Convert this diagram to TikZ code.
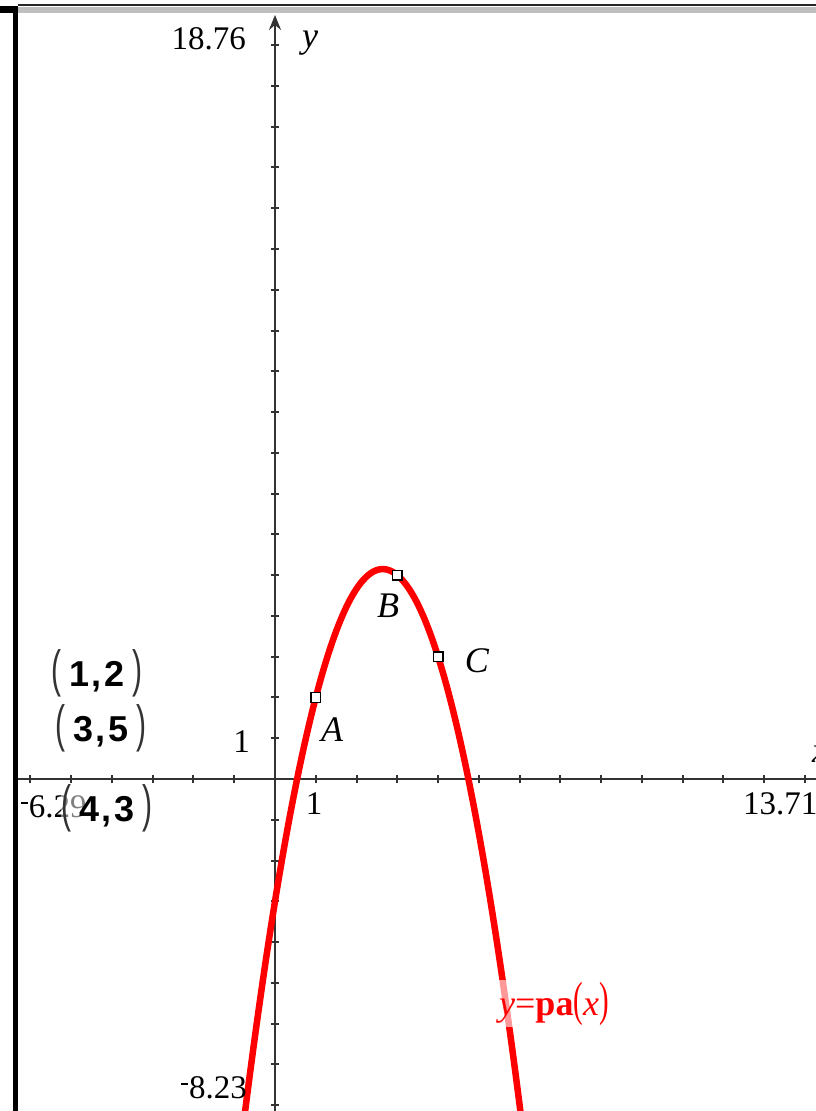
\documentclass[tikz,border=0pt]{standalone}
\usepackage{fontspec}
\setmainfont{Liberation Serif}
\newfontfamily\tisans{Liberation Sans}
\usetikzlibrary{arrows.meta}
\newcommand\timinus{\raisebox{0.42em}{\rule{0.2em}{0.055em}}\hspace{0.03em}}
\newcommand\tipar[1]{\textcolor{black!80}{\scalebox{1}[1.7]{\fontsize{30}{30}\selectfont\tisans #1}}}
\newcommand\tuple[2]{\tipar{(}\hspace{8pt}{\fontsize{36}{36}\selectfont\tisans\bfseries #1\hspace{2pt},\hspace{3pt}#2}\hspace{8pt}\tipar{)}}
\newcommand\redpar[1]{\scalebox{0.9}[1.5]{\fontsize{32}{32}\selectfont #1}}
\begin{document}
\begin{tikzpicture}[x=1pt,y=-1pt,
  axisline/.style={draw=black!80,line width=2.5pt},
  tickmark/.style={draw=black!80,line width=2pt},
  numlbl/.style={inner sep=0pt,font=\fontsize{33}{33}\selectfont},
  ptlbl/.style={inner sep=0pt,font=\fontsize{36}{36}\selectfont\itshape},
  tuplbl/.style={inner sep=0pt},
  ptmark/.style={draw=black,fill=white,line width=1.4pt,minimum size=9.5pt,inner sep=0pt,rectangle}]
\useasboundingbox (0,0) rectangle (816,1111);
\clip (0,0) rectangle (816,1111);
% frame
\fill[black!25] (18,7) rectangle (816,13);
\draw[black!85,line width=2pt] (18,5) -- (816,5);
\fill[black] (0,6) rectangle (18,13);
\fill[black] (13,6) rectangle (18,1111);
% graph
\begin{scope}[shift={(275,779)},x=40.77pt,y=40.77pt]
  \draw[axisline] (-6.31,0) -- (13.6,0);
  \draw[axisline,-{Stealth[length=15pt,width=12pt,inset=5pt]}] (0,-8.4) -- (0,18.74);
  \foreach \i in {-6,...,-1,1,2,...,13} \draw[tickmark] (\i,-0.11) -- (\i,0.11);
  \foreach \j in {-8,...,-1,1,2,...,18} \draw[tickmark] (-0.11,\j) -- (0.11,\j);
  \draw[red,line width=6.5pt,line join=round] plot[domain=-0.9:6.2,samples=140] (\x,{-7/6*\x*\x+37/6*\x-3});
  \node[ptmark] (A) at (1,2) {};
  \node[ptmark] (B) at (3,5) {};
  \node[ptmark] (C) at (4,3) {};
\end{scope}
% axis labels
\node[numlbl,anchor=east] (ymax) at (246,39) {18.76};
\node[ptlbl,anchor=base west] (ylab) at (302,47) {y};
\node[ptlbl,anchor=base west] (xlab) at (812,762) {x};
\node[numlbl,anchor=east] (y1) at (250,742) {1};
\node[numlbl] (x1) at (314,804) {1};
\node[numlbl,anchor=west] (xmin) at (21,807) {\timinus6.29};
\node[numlbl,anchor=west] (xmax) at (743,804) {13.71};
\node[numlbl,anchor=east] (ymin) at (247,1088) {\timinus8.23};
% point labels
\node[ptlbl] (lA) at (332,730) {A};
\node[ptlbl] (lB) at (388,606) {B};
\node[ptlbl] (lC) at (477,661) {C};
% tuples
\node[tuplbl] (t1) at (97,673) {\tuple{1}{2}};
\node[tuplbl] (t2) at (101,728) {\tuple{3}{5}};
\node[tuplbl,fill=white,fill opacity=0.5,text opacity=1] (t3) at (107,808) {\tuple{4}{3}};
% function label
\node[anchor=base west,inner sep=2pt,fill=white,fill opacity=0.6,text opacity=1,text=red] (flab) at (497,1015)
  {\fontsize{36}{36}\selectfont\itshape y\upshape=\bfseries pa\mdseries\redpar{(}\itshape x\upshape\redpar{)}};
\end{tikzpicture}
\end{document}
